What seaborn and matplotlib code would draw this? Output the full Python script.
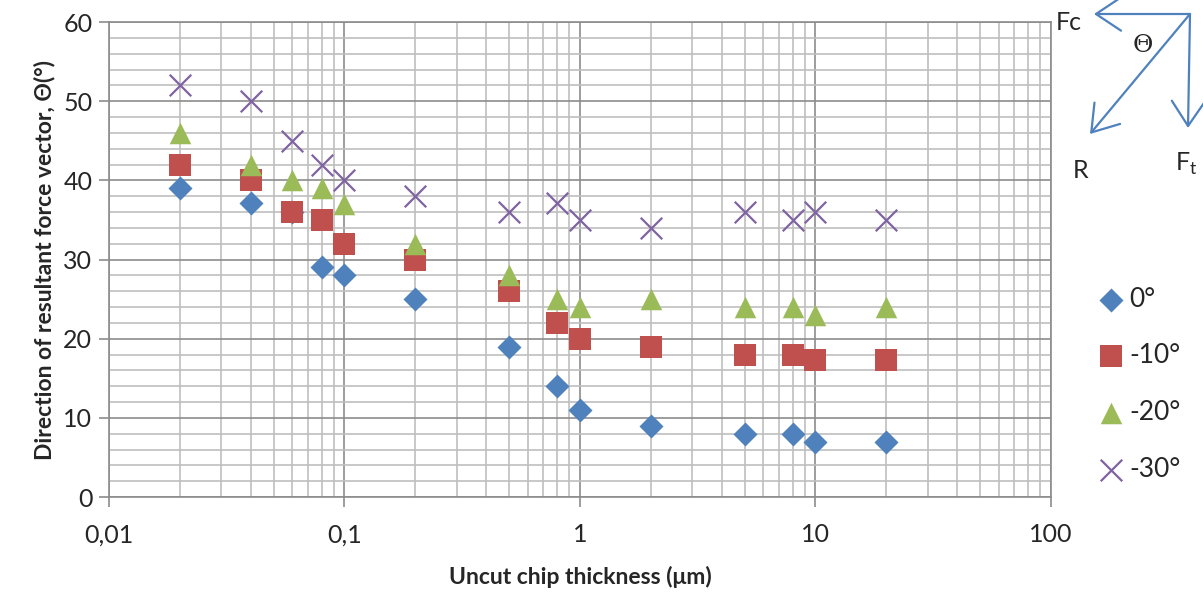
import matplotlib
matplotlib.use("Agg")
import matplotlib.pyplot as plt
import seaborn as sns
import pandas as pd
from matplotlib.patches import FancyArrowPatch
from matplotlib.ticker import FixedLocator, LogLocator, MultipleLocator, NullFormatter

# data
thickness = [0.02, 0.04, 0.06, 0.08, 0.1, 0.2, 0.5, 0.8, 1, 2, 5, 8, 10, 20]
rake_0 = [39, 37.2, 36, 29, 28, 25, 19, 14, 11, 9, 8, 8, 7, 7]
rake_10 = [42, 40, 36, 35, 32, 30, 26, 22, 20, 19, 18, 18, 17.3, 17.3]
rake_20 = [46, 42, 40, 39, 37, 32, 28, 25, 24, 25, 24, 24, 23, 24]
rake_30 = [52, 50, 45, 42, 40, 38, 36, 37.2, 35, 34, 36, 35, 36, 35]

series_names = ["0°", "-10°", "-20°", "-30°"]
x_tick_values = [0.01, 0.1, 1, 10, 100]
x_tick_labels = ["0,01", "0,1", "1", "10", "100"]

sns.set_style("white")
plt.rcParams["font.family"] = ["Lato", "DejaVu Sans"]

fig = plt.figure(figsize=(12.03, 5.97), dpi=100)
ax = fig.add_axes([0.0906, 0.1675, 0.7830, 0.7956])

# one style per series: colour, marker, size
styles = {
    "0°": dict(color="#4F81BD", marker="D", s=150),
    "-10°": dict(color="#C0504D", marker="s", s=240),
    "-20°": dict(color="#9BBB59", marker="^", s=240),
    "-30°": dict(color="#8064A2", marker="x", s=240),
}
values = [rake_0, rake_10, rake_20, rake_30]

for name, vals in zip(series_names, values):
    df = pd.DataFrame({"h": thickness, "theta": vals})
    st = styles[name]
    if st["marker"] == "x":
        sns.scatterplot(data=df, x="h", y="theta", ax=ax, color=st["color"],
                        marker="x", s=st["s"], linewidth=1.6, label=name, zorder=3)
    else:
        sns.scatterplot(data=df, x="h", y="theta", ax=ax, color=st["color"],
                        marker=st["marker"], s=st["s"], linewidth=0, label=name, zorder=3)

ax.set_xscale("log")
ax.set_xlim(0.01, 100)
ax.set_ylim(0, 60)

ax.xaxis.set_major_locator(FixedLocator(x_tick_values))
ax.set_xticklabels(x_tick_labels)
ax.xaxis.set_minor_locator(LogLocator(base=10, subs=range(2, 10)))
ax.xaxis.set_minor_formatter(NullFormatter())
ax.yaxis.set_major_locator(MultipleLocator(10))
ax.yaxis.set_minor_locator(MultipleLocator(2))

# excel-like grid
ax.grid(which="major", color="#8c8c8c", linewidth=1.2, zorder=0)
ax.grid(which="minor", color="#bfbfbf", linewidth=1.2, zorder=0)
ax.set_axisbelow(True)
for sp in ax.spines.values():
    sp.set_color("#8c8c8c")
    sp.set_linewidth(1.2)
    sp.set_visible(True)

ax.tick_params(axis="both", which="major", direction="out", length=7, width=1.2,
               color="#8c8c8c", labelsize=18, pad=5, bottom=True, left=True)
ax.tick_params(axis="both", which="minor", length=0)
ax.tick_params(axis="x", pad=12)

ax.set_xlabel("Uncut chip thickness (μm)", fontsize=16.5, fontweight="bold", labelpad=14)
ax.set_ylabel("Direction of resultant force vector, Θ(°)", fontsize=16.5,
              fontweight="bold", labelpad=6)

# legend to the right of the plot
leg = ax.legend(loc="upper left", bbox_to_anchor=(1.033, 0.465), frameon=False,
                fontsize=19, handletextpad=0.0, labelspacing=1.2, borderaxespad=0,
                handlelength=1.4)

# force diagram at top right
def to_fig(px, py):
    return px / 1203, 1 - py / 597

arrow_kw = dict(arrowstyle="->,head_length=0.6,head_width=0.4", color="#4F81BD",
                lw=1.6, mutation_scale=30, shrinkA=0, shrinkB=0)
origin = to_fig(1190, 14)
for target in [(1094, 14), (1188, 128), (1090, 134)]:
    fig.add_artist(FancyArrowPatch(origin, to_fig(*target),
                                   transform=fig.transFigure, **arrow_kw))
fig.text(*to_fig(1056, 22), "Fc", fontsize=18, va="center", ha="left")
fig.text(*to_fig(1143, 46), "Θ", fontsize=18, va="center", ha="center",
         family=["DejaVu Serif"])
fig.text(*to_fig(1081, 171), "R", fontsize=18, va="center", ha="center")
fig.text(*to_fig(1175, 164), "F$_\\mathregular{t}$", fontsize=18, va="center", ha="left")

fig.savefig("out.png", dpi=100)
